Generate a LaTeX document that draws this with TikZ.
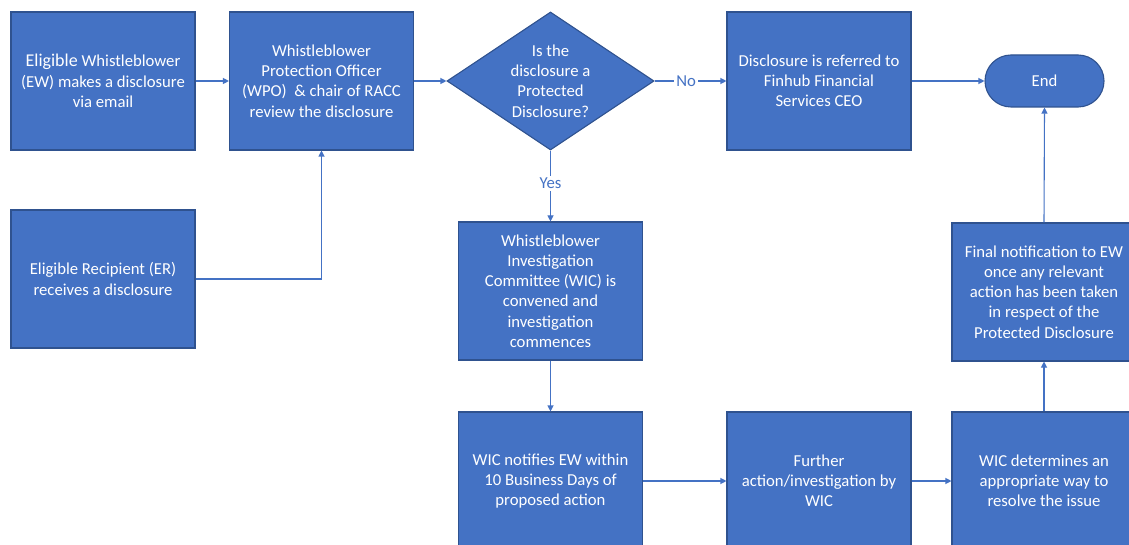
\documentclass[tikz,border=0pt]{standalone}
\usepackage{fontspec}
\setmainfont{Carlito}
\usetikzlibrary{shapes.geometric,arrows.meta}
\definecolor{obox}{HTML}{4472C4}
\definecolor{oedge}{HTML}{2F528F}
\tikzset{
  procbox/.style={rectangle, fill=obox, draw=oedge, line width=1.1pt, minimum width=184pt, minimum height=138pt, inner sep=0pt, text=white, align=center, font=\fontsize{16.7}{20.2}\selectfont},
  txt/.style={text=white, align=center, inner sep=0pt, font=\fontsize{16.7}{20.2}\selectfont},
  conn/.style={draw=obox, line width=1.1pt, -{Triangle[length=6pt,width=6pt]}},
  lbl/.style={fill=white, text=obox, inner sep=2pt, font=\fontsize{16.7}{20}\selectfont}
}
\begin{document}
\begin{tikzpicture}[x=1pt,y=-1pt]
\fill[white] (0,0) rectangle (1129,545);
\useasboundingbox (0,0) rectangle (1129,545);
\clip (0,0) rectangle (1129,545);

\node[procbox] (ew) at (103,81) {{\fontsize{18}{20.2}\selectfont Eligible} Whistleblower\\(EW) makes a disclosure\\via email};
\node[procbox] (wpo) at (321.5,81) {Whistleblower\\Protection Officer\\(WPO) \ \& chair of RACC\\review the disclosure};
\node[diamond, fill=obox, draw=oedge, line width=1.1pt, minimum width=207pt, minimum height=138pt, inner sep=0pt] (dec) at (550.5,81) {};
\node[txt] (dect) at (550.5,81) {Is the\\disclosure a\\Protected\\Disclosure?};
\node[procbox] (ceo) at (819,81) {Disclosure is referred to\\Finhub Financial\\Services CEO};
\node[rectangle, rounded corners=26pt, fill=obox, draw=oedge, line width=1.1pt, minimum width=119pt, minimum height=52pt, inner sep=0pt, text=white, font=\fontsize{16.7}{20}\selectfont] (end) at (1044.5,81) {End};
\node[procbox] (er) at (103,279) {Eligible Recipient (ER)\\receives a disclosure};
\node[procbox] (wic) at (550.5,291) {Whistleblower\\Investigation\\Committee (WIC) is\\convened and\\investigation\\commences};
\node[procbox] (fin) at (1044,292) {Final notification to EW\\once any relevant\\action has been taken\\in respect of the\\Protected Disclosure};
\node[procbox] (notif) at (550.5,481) {WIC notifies EW within\\10 Business Days of\\proposed action};
\node[procbox] (further) at (819,481) {Further\\action/investigation by\\WIC};
\node[procbox] (det) at (1044,481) {WIC determines an\\appropriate way to\\resolve the issue};

\draw[conn] (ew.east) -- (wpo.west);
\draw[conn] (wpo.east) -- (dec.west);
\draw[conn] (dec.east) -- node[lbl, pos=0.44] (nolbl) {No} (ceo.west);
\draw[conn] (ceo.east) -- (end.west);
\draw[conn] (er.east) -| (wpo.south);
\draw[conn] (dec.south) -- node[lbl, pos=0.46] (yeslbl) {Yes} (wic.north);
\draw[conn] (wic.south) -- (notif.north);
\draw[conn] (notif.east) -- (further.west);
\draw[conn] (further.east) -- (det.west);
\draw[conn] (det.north) -- (fin.south);
\draw[conn] (fin.north) -- (end.south);
\end{tikzpicture}
\end{document}
